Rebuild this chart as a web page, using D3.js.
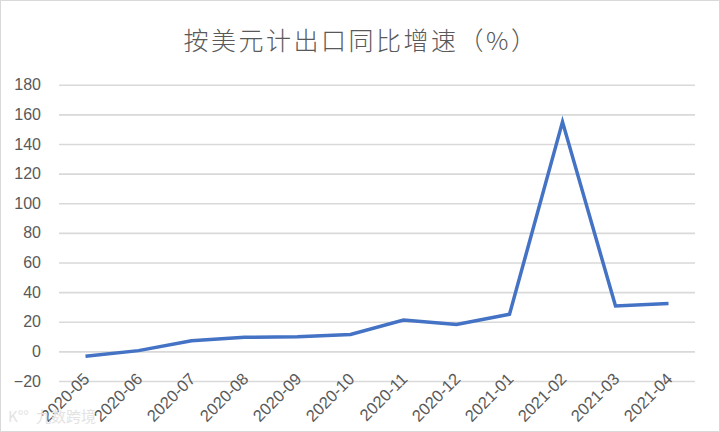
<!DOCTYPE html>
<html><head><meta charset="utf-8">
<script src="https://cdn.jsdelivr.net/npm/d3@7"></script>
<style>body{margin:0;background:#fff}svg{display:block}</style>
</head><body>
<svg id="c" width="720" height="432"></svg>
<script>
const categories = ["2020-05","2020-06","2020-07","2020-08","2020-09","2020-10","2020-11","2020-12","2021-01","2021-02","2021-03","2021-04"];
const values = [-3.3, 0.5, 7.2, 9.5, 9.9, 11.4, 21.1, 18.1, 25.0, 154.9, 30.6, 32.3];
const yTicks = [-20, 0, 20, 40, 60, 80, 100, 120, 140, 160, 180];
const title = "按美元计出口同比增速（%）";

(function(){
const svg = d3.select("#c");
const font = "'Noto Sans CJK SC','Microsoft YaHei','DejaVu Sans',sans-serif";
const lab = "'Liberation Sans',Arial,sans-serif";
svg.append("rect").attr("x",0.5).attr("y",0.5).attr("width",719).attr("height",431)
  .attr("fill","#fff").attr("stroke","#d9d9d9");

const mLeft = 59, mRight = 695, mTop = 84.7, mBottom = 381;
const x = d3.scaleBand().domain(categories).range([mLeft, mRight]);
const y = d3.scaleLinear().domain([-20, 180]).range([mBottom, mTop]);

svg.append("text").attr("x", 361).attr("y", 50).attr("text-anchor","middle")
  .attr("font-family", font).attr("font-size", 25).attr("font-weight", 300).attr("letter-spacing", 2.5)
  .attr("fill","#595959").text(title);

const ya = svg.append("g").attr("transform",`translate(${mLeft},0)`)
  .call(d3.axisLeft(y).tickValues(yTicks).tickSize(-(mRight-mLeft)).tickPadding(18));
ya.select(".domain").remove();
ya.selectAll(".tick line").attr("stroke","#d9d9d9").attr("stroke-width",1.6);
ya.selectAll(".tick text").attr("font-family",lab).attr("font-size",16).attr("fill","#595959");

const xa = svg.append("g").attr("transform",`translate(0,${mBottom})`)
  .call(d3.axisBottom(x).tickSize(0));
xa.select(".domain").remove();
xa.selectAll(".tick text").attr("font-family",lab).attr("font-size",16.5).attr("fill","#595959")
  .attr("text-anchor","end").attr("dy",0).attr("y",0)
  .attr("transform","translate(5,-1) rotate(-45)");

const line = d3.line().x((d,i)=>x(categories[i])+x.bandwidth()/2).y(d=>y(d));
svg.append("path").datum(values).attr("d", line).attr("fill","none")
  .attr("stroke","#4472C4").attr("stroke-width",3.5).attr("stroke-linejoin","miter").attr("stroke-linecap","butt");

svg.append("text").attr("x", 36).attr("y", 422).attr("font-family", font).attr("font-size", 15)
  .attr("fill","#e3e3e3").text("九数跨境");
svg.append("text").attr("x", 8).attr("y", 422).attr("font-family", font).attr("font-size", 15)
  .attr("fill","#e3e3e3").text("K°°");
})();
</script>
</body></html>
